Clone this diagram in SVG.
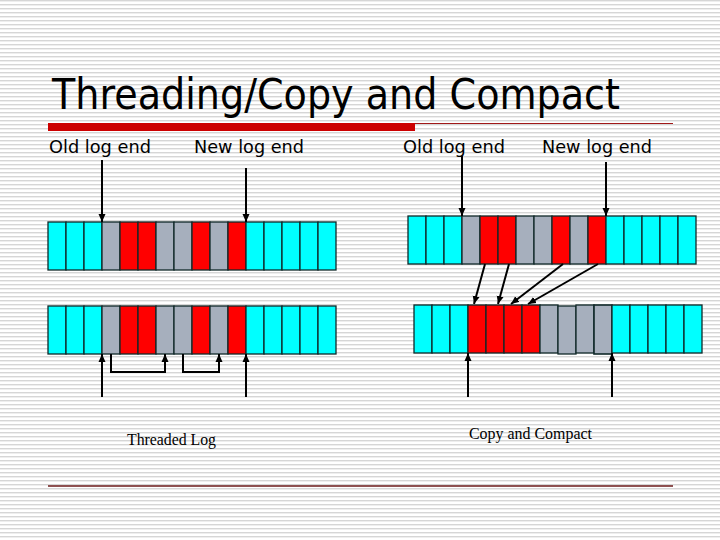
<svg xmlns="http://www.w3.org/2000/svg" width="720" height="540" viewBox="0 0 720 540">
  <defs>
    <pattern id="stripes" x="0" y="0" width="8" height="4" patternUnits="userSpaceOnUse">
      <rect x="0" y="0" width="8" height="4" fill="#ffffff"/>
      <rect x="0" y="0" width="8" height="1.4" fill="#d6d6d6"/>
    </pattern>
    <marker id="ah" viewBox="0 0 8 8" refX="8" refY="4" markerWidth="8" markerHeight="8" markerUnits="userSpaceOnUse" orient="auto">
      <path d="M0,0.5 L8,4 L0,7.5 z" fill="#000"/>
    </marker>
    <style>
      .c { fill: #00ffff; stroke: #102828; stroke-width: 1.3; }
      .r { fill: #ff0000; stroke: #102828; stroke-width: 1.3; }
      .g { fill: #a6afbd; stroke: #102828; stroke-width: 1.3; }
      .ar { stroke: #000; stroke-width: 2; fill: none; marker-end: url(#ah); }
      .lbl { font-family: "DejaVu Sans", "Liberation Sans", sans-serif; font-size: 17px; fill: #000; }
      .cap { font-family: "Liberation Serif", "DejaVu Serif", serif; font-size: 16px; fill: #000; }
      .title { font-family: "DejaVu Sans", "Liberation Sans", sans-serif; font-size: 42px; fill: #000; }
    </style>
  </defs>

  <rect x="0" y="0" width="720" height="540" fill="url(#stripes)"/>

  <g id="title">
    <text class="title" x="52" y="109" textLength="568" lengthAdjust="spacingAndGlyphs">Threading/Copy and Compact</text>
    <rect x="48" y="123" width="367" height="8" fill="#cc0000"/>
    <line x1="415" y1="123.5" x2="673" y2="123.5" stroke="#a01818" stroke-width="1.2"/>
  </g>

  <g id="labels">
    <text class="lbl" x="49" y="153" textLength="102" lengthAdjust="spacingAndGlyphs">Old log end</text>
    <text class="lbl" x="194" y="153" textLength="110" lengthAdjust="spacingAndGlyphs">New log end</text>
    <text class="lbl" x="403" y="153" textLength="102" lengthAdjust="spacingAndGlyphs">Old log end</text>
    <text class="lbl" x="542" y="153" textLength="110" lengthAdjust="spacingAndGlyphs">New log end</text>
  </g>

  <g id="bar-left-top">
    <rect class="c" x="48" y="222" width="18" height="48"/>
    <rect class="c" x="66" y="222" width="18" height="48"/>
    <rect class="c" x="84" y="222" width="18" height="48"/>
    <rect class="g" x="102" y="222" width="18" height="48"/>
    <rect class="r" x="120" y="222" width="18" height="48"/>
    <rect class="r" x="138" y="222" width="18" height="48"/>
    <rect class="g" x="156" y="222" width="18" height="48"/>
    <rect class="g" x="174" y="222" width="18" height="48"/>
    <rect class="r" x="192" y="222" width="18" height="48"/>
    <rect class="g" x="210" y="222" width="18" height="48"/>
    <rect class="r" x="228" y="222" width="18" height="48"/>
    <rect class="c" x="246" y="222" width="18" height="48"/>
    <rect class="c" x="264" y="222" width="18" height="48"/>
    <rect class="c" x="282" y="222" width="18" height="48"/>
    <rect class="c" x="300" y="222" width="18" height="48"/>
    <rect class="c" x="318" y="222" width="18" height="48"/>
  </g>

  <g id="bar-left-bottom">
    <rect class="c" x="48" y="306" width="18" height="48"/>
    <rect class="c" x="66" y="306" width="18" height="48"/>
    <rect class="c" x="84" y="306" width="18" height="48"/>
    <rect class="g" x="102" y="306" width="18" height="48"/>
    <rect class="r" x="120" y="306" width="18" height="48"/>
    <rect class="r" x="138" y="306" width="18" height="48"/>
    <rect class="g" x="156" y="306" width="18" height="48"/>
    <rect class="g" x="174" y="306" width="18" height="48"/>
    <rect class="r" x="192" y="306" width="18" height="48"/>
    <rect class="g" x="210" y="306" width="18" height="48"/>
    <rect class="r" x="228" y="306" width="18" height="48"/>
    <rect class="c" x="246" y="306" width="18" height="48"/>
    <rect class="c" x="264" y="306" width="18" height="48"/>
    <rect class="c" x="282" y="306" width="18" height="48"/>
    <rect class="c" x="300" y="306" width="18" height="48"/>
    <rect class="c" x="318" y="306" width="18" height="48"/>
  </g>

  <g id="bar-right-top">
    <rect class="c" x="408" y="216" width="18" height="48"/>
    <rect class="c" x="426" y="216" width="18" height="48"/>
    <rect class="c" x="444" y="216" width="18" height="48"/>
    <rect class="g" x="462" y="216" width="18" height="48"/>
    <rect class="r" x="480" y="216" width="18" height="48"/>
    <rect class="r" x="498" y="216" width="18" height="48"/>
    <rect class="g" x="516" y="216" width="18" height="48"/>
    <rect class="g" x="534" y="216" width="18" height="48"/>
    <rect class="r" x="552" y="216" width="18" height="48"/>
    <rect class="g" x="570" y="216" width="18" height="48"/>
    <rect class="r" x="588" y="216" width="18" height="48"/>
    <rect class="c" x="606" y="216" width="18" height="48"/>
    <rect class="c" x="624" y="216" width="18" height="48"/>
    <rect class="c" x="642" y="216" width="18" height="48"/>
    <rect class="c" x="660" y="216" width="18" height="48"/>
    <rect class="c" x="678" y="216" width="18" height="48"/>
  </g>

  <g id="bar-right-bottom">
    <rect class="c" x="414" y="305" width="18" height="48"/>
    <rect class="c" x="432" y="305" width="18" height="48"/>
    <rect class="c" x="450" y="305" width="18" height="48"/>
    <rect class="r" x="468" y="305" width="18" height="48"/>
    <rect class="r" x="486" y="305" width="18" height="48"/>
    <rect class="r" x="504" y="305" width="18" height="48"/>
    <rect class="r" x="522" y="305" width="18" height="48"/>
    <rect class="g" x="540" y="305" width="18" height="48"/>
    <rect class="g" x="558" y="306" width="18" height="48"/>
    <rect class="g" x="576" y="305" width="18" height="48"/>
    <rect class="g" x="594" y="305" width="18" height="49" style="stroke-width:1.6"/>
    <rect class="c" x="612" y="305" width="18" height="48"/>
    <rect class="c" x="630" y="305" width="18" height="48"/>
    <rect class="c" x="648" y="305" width="18" height="48"/>
    <rect class="c" x="666" y="305" width="18" height="48"/>
    <rect class="c" x="684" y="305" width="18" height="48"/>
  </g>

  <g id="connectors">
    <line class="ar" x1="102" y1="160" x2="102" y2="222"/>
    <line class="ar" x1="246" y1="168" x2="246" y2="222"/>
    <line class="ar" x1="462" y1="156" x2="462" y2="216"/>
    <line class="ar" x1="606" y1="162" x2="606" y2="216"/>
    <line class="ar" x1="102" y1="397" x2="102" y2="354"/>
    <line class="ar" x1="246" y1="397" x2="246" y2="354"/>
    <path class="ar" d="M111,354 V372 H165 V354"/>
    <path class="ar" d="M183,354 V372 H219 V354"/>
    <line class="ar" x1="485" y1="264" x2="474" y2="304"/>
    <line class="ar" x1="509" y1="264" x2="498" y2="304"/>
    <line class="ar" x1="563" y1="264" x2="511" y2="304"/>
    <line class="ar" x1="598" y1="264" x2="528" y2="304"/>
    <line class="ar" x1="468" y1="397" x2="468" y2="353"/>
    <line class="ar" x1="612" y1="397" x2="612" y2="353"/>
  </g>

  <g id="captions">
    <text class="cap" x="127" y="445" textLength="89" lengthAdjust="spacingAndGlyphs">Threaded Log</text>
    <text class="cap" x="469" y="439" textLength="123" lengthAdjust="spacingAndGlyphs">Copy and Compact</text>
  </g>

  <line id="footer-rule" x1="48" y1="486" x2="673" y2="486" stroke="#6b1a1a" stroke-width="1.5"/>
</svg>
